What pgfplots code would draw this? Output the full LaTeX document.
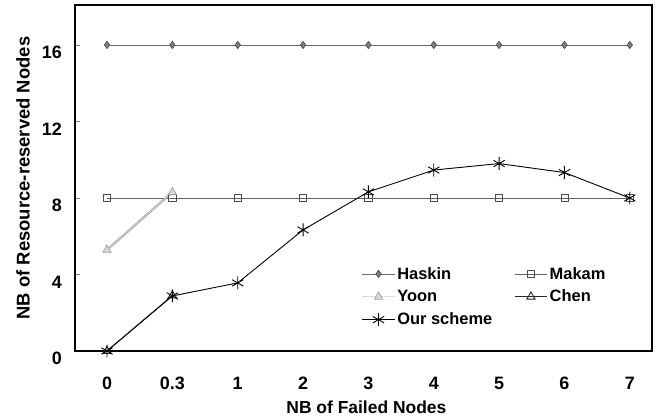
\documentclass[border=0pt]{standalone}
\usepackage{fontspec}
\setmainfont{Liberation Sans}
\usepackage{pgfplots}
\pgfplotsset{compat=1.18}

\definecolor{hask}{gray}{0.42}
\definecolor{haskfill}{gray}{0.50}
\definecolor{mak}{gray}{0.38}
\definecolor{yoon}{gray}{0.62}
\definecolor{yoonlight}{gray}{0.85}

\begin{document}
\begin{tikzpicture}
\begin{axis}[
    scale only axis,
    width=577bp, height=346bp,
    xmin=-0.49, xmax=8.34,
    ymin=0, ymax=18.09,
    xtick={0,1,2,3,4,5,6,7,8},
    xticklabels={0,0.3,1,2,3,4,5,6,7},
    ytick={0,4,8,12,16},
    xtick style={draw=none},
    ytick style={line width=0.6pt},
    major tick length=5bp,
    tick align=inside,
    ytick pos=left,
    axis line style={line width=1.2pt},
    tick label style={font=\fontsize{18}{20}\selectfont\bfseries},
    /pgf/number format/assume math mode=true,
    xticklabel style={anchor=base, yshift=-38bp},
    yticklabel style={anchor=north east, inner sep=0pt, xshift=-13bp, yshift=-1bp},
    xlabel={\fontsize{17.5}{19}\selectfont\bfseries NB of Failed Nodes},
    ylabel={\fontsize{18.5}{20}\selectfont\bfseries NB of Resource-reserved Nodes},
    every axis x label/.style={at={([yshift=-62bp]rel axis cs:0.505,0)}, anchor=base, inner sep=0pt},
    every axis y label/.style={at={([xshift=-45bp]rel axis cs:0,0.5)}, rotate=90, anchor=south, inner sep=0pt},
    legend columns=2,
    legend cell align=left,
    legend style={at={(axis cs:3.85,4.6)}, anchor=north west, draw=none, fill=none,
        font=\fontsize{16.5}{18}\selectfont\bfseries, row sep=5.5pt,
        /tikz/every even column/.append style={column sep=20pt}},
    legend image code/.code={\draw[mark repeat=2,mark phase=2]
        plot coordinates {(0cm,0cm) (0.575cm,0cm) (1.15cm,0cm)};},
]
\addplot[hask, line width=0.7pt, mark=diamond*, mark size=3.6pt,
    mark options={fill=haskfill, draw=black!70, solid}]
    coordinates {(0,16) (1,16) (2,16) (3,16) (4,16) (5,16) (6,16) (7,16) (8,16)};
\addlegendentry{Haskin}
\addplot[mak, line width=0.7pt, mark=square, mark size=3.6pt,
    mark options={fill=white, draw=black!70, solid}]
    coordinates {(0,8) (1,8) (2,8) (3,8) (4,8) (5,8) (6,8) (7,8) (8,8)};
\addlegendentry{Makam}
\addplot[yoon, line width=2.2pt, forget plot]
    coordinates {(0,5.29) (1,8.3)};
\addplot[yoonlight, line width=0.8pt, mark=triangle*, mark size=4.8pt,
    mark options={fill=yoonlight, draw=yoon, line width=0.7pt}]
    coordinates {(0,5.29) (1,8.3)};
\addlegendentry{Yoon}
\addplot[black!85, line width=0.9pt, mark=triangle, mark size=4.8pt,
    mark options={fill=white}]
    coordinates {(0,0) (1,2.9)};
\addlegendentry{Chen}
\addplot[black, line width=0.9pt, mark=asterisk, mark size=6.5pt,
    mark options={line width=0.9pt}]
    coordinates {(0,0) (1,2.88) (2,3.56) (3,6.33) (4,8.32) (5,9.46) (6,9.8) (7,9.33) (8,8.0)};
\addlegendentry{Our scheme}
\end{axis}
\path ([xshift=-75bp,yshift=-68bp]current axis.south west)
      ([xshift=11bp,yshift=5bp]current axis.north east);
\end{tikzpicture}
\end{document}
